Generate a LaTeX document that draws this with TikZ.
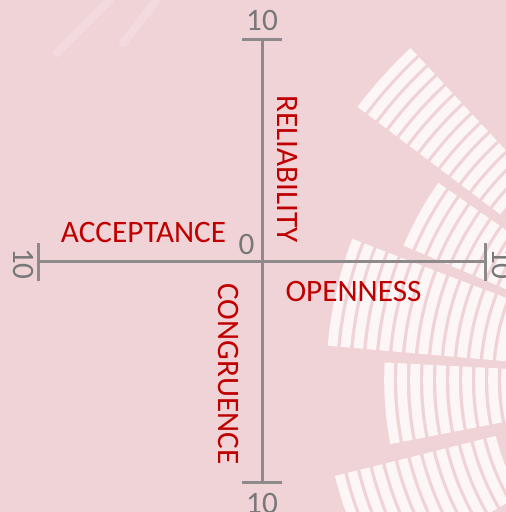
\documentclass[tikz,border=0pt]{standalone}
\usepackage{fontspec}
\setmainfont{Carlito}
\usetikzlibrary{positioning}
\definecolor{Blush}{HTML}{F0D3D7}
\definecolor{Crimson}{HTML}{C00000}
\definecolor{AxisGray}{HTML}{8E8A8B}
\definecolor{NumGray}{HTML}{787878}
\tikzset{
  axisline/.style={draw=AxisGray, line width=1.5pt},
  scalenum/.style={text=NumGray, inner sep=0pt, font=\fontsize{15.6}{18}\selectfont},
  dimlabel/.style={text=Crimson, inner sep=0pt, font=\fontsize{15.6}{18}\selectfont},
  stripe/.style={draw=white, draw opacity=0.8, line width=4.8pt},
  glare/.style={draw=white, draw opacity=0.18, line width=4pt, line cap=round}
}

\begin{document}
\begin{tikzpicture}[x=0.5pt,y=0.5pt]
  \fill[Blush] (0,0) rectangle (506,512);
  \useasboundingbox (0,0) rectangle (506,512);
  % window fan behind the axes
  \begin{scope}
    \clip (0,0) rectangle (506,512);
    \coordinate (hub) at (720,132);
    \foreach \a/\b/\ra/\rn/\rb in {133/143/280/293/460,145/157/235/248/350,
        159/175/220/233/396,177/191/214/227/338,194/210/236/249/400}
      \foreach \r in {\ra,\rn,...,\rb}
        \draw[stripe] (hub) ++(\a:\r) arc[start angle=\a, end angle=\b, radius=\r];
    \draw[glare] (57,459) -- (110,512);
    \draw[glare] (123,469) -- (157,512);
  \end{scope}

  % axes
  \coordinate (origin) at (262,250);
  \coordinate (ytop) at (262,472);
  \coordinate (ybot) at (262,29);
  \coordinate (xleft) at (38,250);
  \coordinate (xright) at (485,250);
  \draw[axisline] (xleft) -- (xright);
  \draw[axisline] (ybot) -- (ytop);
  \draw[axisline] (ytop) ++(-20,0) -- ++(40,0);
  \draw[axisline] (ybot) ++(-20,0) -- ++(40,0);
  \draw[axisline] (xleft) ++(0,-19) -- ++(0,38);
  \draw[axisline] (xright) ++(0,-19) -- ++(0,38);

  % scale numbers
  \node[scalenum, above=4.5pt of ytop] (ymax) {10};
  \node[scalenum, below=5pt of ybot] (ymin) {10};
  \node[scalenum, rotate=-90] (xmin) at (24,248) {10};
  \node[scalenum, rotate=-90] (xmax) at (502.5,248) {10};
  \node[scalenum] (zero) at (246.5,268) {0};

  % the four dimensions
  \node[dimlabel] (accept) at (143.5,280) {ACCEPTANCE};
  \node[dimlabel, rotate=-90] (reliab) at (288,343) {RELIABILITY};
  \node[dimlabel, rotate=-90] (congr) at (229,138) {CONGRUENCE};
  \node[dimlabel] (open) at (353.5,220.5) {OPENNESS};
\end{tikzpicture}
\end{document}
